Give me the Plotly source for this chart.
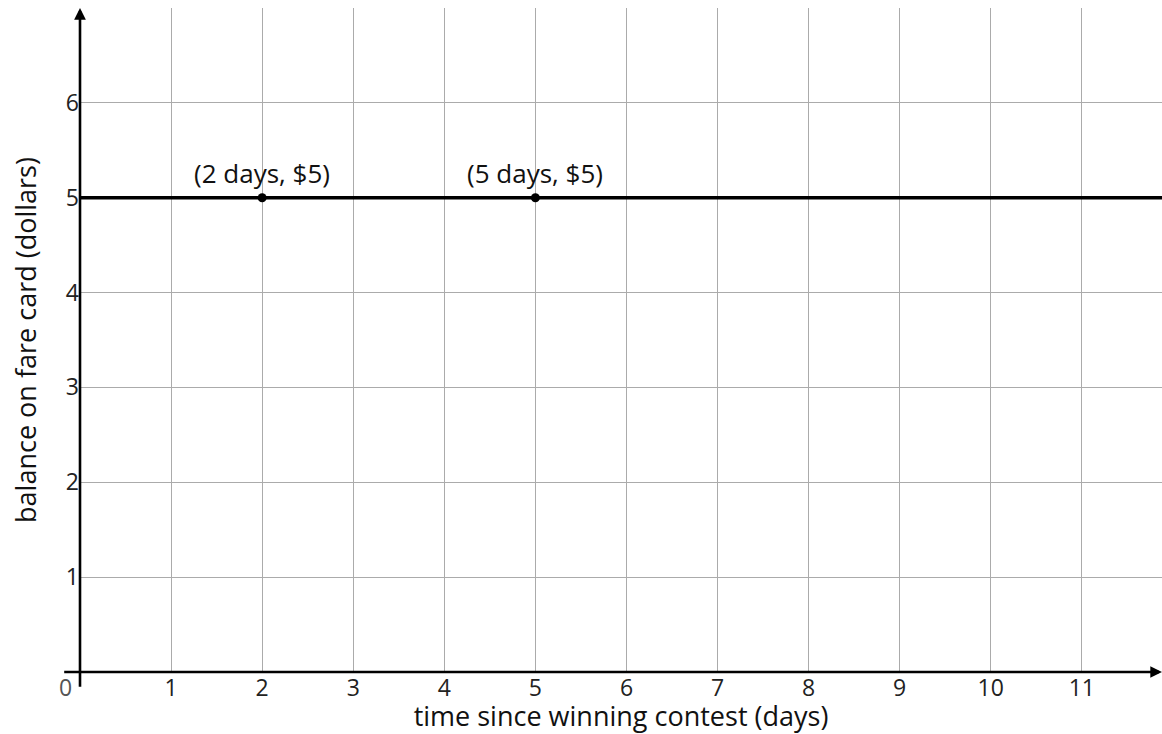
import plotly.graph_objects as go

# data
x_ticks = [1, 2, 3, 4, 5, 6, 7, 8, 9, 10, 11]
y_ticks = [1, 2, 3, 4, 5, 6]
line_x = [0, 11.88]
line_y = [5, 5]
pts_x = [2, 5]
pts_y = [5, 5]
pts_labels = ["(2 days, $5)", "(5 days, $5)"]

XMAX = 11.88
YMAX = 7

FONT = "Open Sans"
fig = go.Figure()

fig.add_trace(go.Scatter(x=line_x, y=line_y, mode="lines",
                         line=dict(color="black", width=3.5),
                         hoverinfo="skip", showlegend=False, cliponaxis=False))
fig.add_trace(go.Scatter(x=pts_x, y=pts_y, mode="markers",
                         marker=dict(color="black", size=9),
                         showlegend=False, cliponaxis=False))
for px, py, t in zip(pts_x, pts_y, pts_labels):
    fig.add_annotation(x=px, y=py, text=t, showarrow=False, yshift=25,
                       font=dict(family=FONT, size=26, color="#111"))

# axis lines (extend slightly beyond origin) with arrows
fig.add_annotation(x=0, y=YMAX, ax=0, ay=-0.17, xref="x", yref="y", axref="x", ayref="y",
                   text="", showarrow=True, arrowhead=2, arrowsize=0.9, arrowwidth=2.6,
                   arrowcolor="black")
fig.add_annotation(x=XMAX, y=0, ax=-0.19, ay=0, xref="x", yref="y", axref="x", ayref="y",
                   text="", showarrow=True, arrowhead=2, arrowsize=0.9, arrowwidth=2.6,
                   arrowcolor="black")

# origin label
fig.add_annotation(x=0, y=0, text="0", showarrow=False, xshift=-15, yshift=-15,
                   font=dict(family=FONT, size=23, color="#555"))

fig.update_xaxes(range=[0, XMAX], tickvals=x_ticks, ticktext=[str(v) for v in x_ticks],
                 showgrid=True, gridcolor="#ababab", gridwidth=1.3, zeroline=False,
                 showline=False, ticks="", tickfont=dict(family=FONT, size=23, color="#222"),
                 title=dict(text="time since winning contest (days)", standoff=12,
                            font=dict(family=FONT, size=27, color="#111")))
fig.update_yaxes(range=[0, YMAX], tickvals=y_ticks + [7], ticktext=[str(v) for v in y_ticks] + [""],
                 showgrid=True, gridcolor="#ababab", gridwidth=1.3, zeroline=False,
                 showline=False, ticks="", tickfont=dict(family=FONT, size=23, color="#222"),
                 title=dict(text="balance on fare card (dollars)", standoff=21,
                            font=dict(family=FONT, size=27, color="#111")))

fig.update_layout(width=1162, height=734, autosize=False,
                  margin=dict(l=80, r=0, t=8, b=62),
                  plot_bgcolor="white", paper_bgcolor="white",
                  font=dict(family=FONT))

fig.write_html("out.html", config={"displayModeBar": False},
               post_script="document.body.style.margin='0';document.body.style.overflow='hidden';")
